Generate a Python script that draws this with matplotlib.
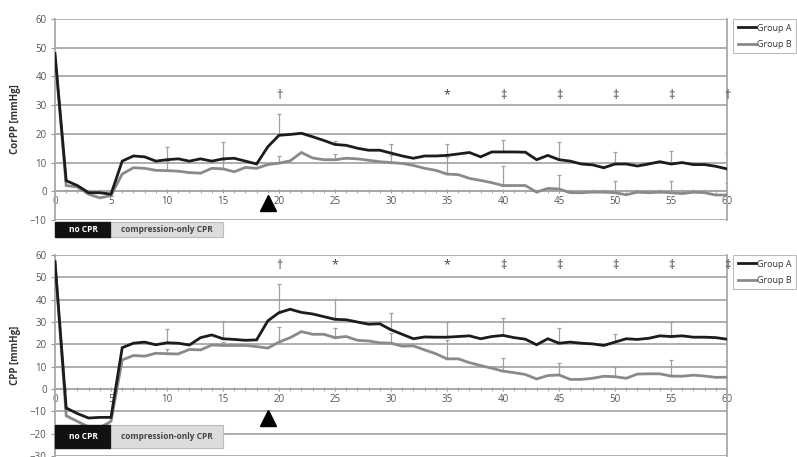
import matplotlib
matplotlib.use("Agg")
import matplotlib.pyplot as plt
import numpy as np
from matplotlib.patches import Rectangle
from matplotlib.lines import Line2D

plt.rcParams['font.family'] = ['Open Sans', 'DejaVu Sans']

minutes = list(range(0, 61))

corpp_a = [48, 3.7, 2, -0.5, -0.5, -1, 10.5, 12.3, 12, 10.5, 11, 11.3, 10.5, 11.3, 10.5, 11.3, 11.5, 10.5, 9.5, 15.5,
           19.5, 19.8, 20.2, 19, 17.7, 16.3, 16, 15, 14.3, 14.3, 13.3, 12.3, 11.5, 12.3, 12.3, 12.5, 13, 13.5, 12, 13.7,
           13.7, 13.7, 13.6, 11, 12.5, 11, 10.5, 9.5, 9.2, 8.2, 9.5, 9.5, 8.8, 9.5, 10.3, 9.5, 10, 9.3, 9.3, 8.7, 7.8]
corpp_b = [47, 2, 1.5, -1, -2.3, -1.5, 6, 8.2, 8, 7.3, 7.2, 7, 6.5, 6.3, 8, 7.8, 6.8, 8.3, 8, 9.3,
           9.8, 10.6, 13.5, 11.6, 11, 11, 11.5, 11.3, 10.8, 10.3, 10, 9.7, 9, 8, 7.3, 6, 5.8, 4.5, 3.8, 3,
           2, 2, 2, -0.3, 1, 0.8, -0.5, -0.5, -0.3, -0.3, -0.5, -1.2, -0.3, -0.5, -0.3, -0.5, -0.8, -0.3, -0.5, -1.3, -1.3]

cpp_a = [57, -8.5, -11, -13, -12.7, -12.7, 18.5, 20.5, 21, 19.8, 20.7, 20.5, 19.7, 23, 24.2, 22.5, 22.2, 21.8, 22, 30.5,
         34.2, 35.7, 34.3, 33.6, 32.4, 31.2, 31, 30, 29, 29.2, 26.5, 24.5, 22.5, 23.3, 23.2, 23.2, 23.5, 23.8, 22.5, 23.5,
         24, 23, 22.3, 19.8, 22.5, 20.5, 21, 20.5, 20.2, 19.5, 21, 22.5, 22.2, 22.7, 23.8, 23.5, 23.8, 23.2, 23.2, 23, 22.3]
cpp_b = [57, -12, -14.5, -17, -17.3, -14.5, 13, 15, 14.7, 16, 15.8, 15.7, 17.7, 17.5, 19.7, 19.5, 19.5, 19.5, 19, 18.3,
         21, 23, 25.7, 24.5, 24.5, 23, 23.5, 21.8, 21.5, 20.7, 20.5, 19.2, 19.3, 17.5, 15.8, 13.5, 13.5, 11.8, 10.5, 9.3,
         8, 7.3, 6.5, 4.5, 6, 6.3, 4.3, 4.3, 4.8, 5.7, 5.5, 4.8, 6.7, 6.8, 6.8, 5.8, 5.7, 6.2, 5.8, 5.2, 5.3]

err_minutes = [10, 15, 20, 25, 30, 35, 40, 45, 50, 55, 60]
corpp_a_upper = [15.3, 17, 27, 17.6, 16.5, 16.3, 17.7, 17.3, 13.7, 14, 13.5]
corpp_b_upper = [10.5, 11, 12.3, 13, 12.5, 12, 8.7, 5.8, 3.5, 3.5, 3]
cpp_a_upper = [26.7, 30.5, 47, 40.3, 34, 30, 32, 27.5, 24.5, 30, 30]
cpp_b_upper = [18, 21, 27.7, 27.2, 25, 22, 14, 11.5, 10, 13, 12.5]

sig_minutes_top = [20, 35, 40, 45, 50, 55, 60]
sig_marks_top = ['†', '*', '‡', '‡', '‡', '‡', '†']
sig_minutes_bot = [20, 25, 35, 40, 45, 50, 55, 60]
sig_marks_bot = ['†', '*', '*', '‡', '‡', '‡', '‡', '‡']

series_names = ['Group A', 'Group B']
phase_labels = ['no CPR', 'compression-only CPR']
phase_bounds = [0, 5, 15]
ylabels = ['CorPP [mmHg]', 'CPP [mmHg]']

W, H = 797, 457
fig = plt.figure(figsize=(W / 100, H / 100), dpi=100)

def fx(p):
    return p / W

def fy(p):
    return 1 - p / H

ax1 = fig.add_axes([fx(55), fy(220), fx(727) - fx(55), fy(19) - fy(220)])
ax2 = fig.add_axes([fx(55), fy(456), fx(727) - fx(55), fy(255) - fy(456)])

GRID = '#a8a8a8'
TXT = '#555555'
COL_A = '#1c1c1c'
COL_B = '#8a8a8a'


def style(ax, ymin, ymax, ylabel, sig_y, sig_m, sig_t, tri_y, bar_y0, bar_y1):
    ax.set_xlim(0, 60)
    ax.set_ylim(ymin, ymax)
    ax.set_yticks(np.arange(ymin, ymax + 1, 10))
    for v in np.arange(ymin, ymax + 1, 10):
        ax.axhline(v, color=GRID, lw=1.3, zorder=0.5)
    ax.spines['top'].set_visible(False)
    for s in ['left', 'right', 'bottom']:
        ax.spines[s].set_color(GRID)
        ax.spines[s].set_linewidth(1.3)
    ax.spines['bottom'].set_position(('data', 0))
    ax.set_xticks(range(0, 61, 5))
    ax.set_xticks(range(0, 61), minor=True)
    ax.tick_params(axis='x', which='both', direction='inout', length=3.5, color='#999999',
                   labelsize=7, labelcolor=TXT, pad=2)
    ax.tick_params(axis='y', direction='out', length=3, color='#999999', labelsize=7, labelcolor=TXT, pad=3)
    ax.set_ylabel(ylabel, fontsize=7, color='#333333', fontweight='bold', labelpad=6)
    for m, t in zip(sig_m, sig_t):
        ax.text(m, sig_y, t, ha='center', va='center', fontsize=9, color='#444444')
    ax.plot([19], [tri_y], marker='^', color='black', markersize=11, linestyle='none', clip_on=False, zorder=5)
    ax.add_patch(Rectangle((phase_bounds[0], bar_y0), phase_bounds[1] - phase_bounds[0], bar_y1 - bar_y0,
                           facecolor='#111111', edgecolor='#111111', clip_on=False, zorder=6))
    ax.add_patch(Rectangle((phase_bounds[1], bar_y0), phase_bounds[2] - phase_bounds[1], bar_y1 - bar_y0,
                           facecolor='#dcdcdc', edgecolor='#bbbbbb', lw=0.8, clip_on=False, zorder=6))
    ym = (bar_y0 + bar_y1) / 2
    ax.text((phase_bounds[0] + phase_bounds[1]) / 2, ym, phase_labels[0], ha='center', va='center',
            fontsize=6, color='white', fontweight='bold', zorder=7, clip_on=False)
    ax.text((phase_bounds[1] + phase_bounds[2]) / 2, ym, phase_labels[1], ha='center', va='center',
            fontsize=6, color='#444444', fontweight='bold', zorder=7, clip_on=False)


def draw(ax, a, b, a_up, b_up):
    a_at = [a[m] for m in err_minutes]
    b_at = [b[m] for m in err_minutes]
    ea = [max(u - v, 0) for u, v in zip(a_up, a_at)]
    eb = [max(u - v, 0) for u, v in zip(b_up, b_at)]
    z = [0] * len(err_minutes)
    ax.errorbar(err_minutes, b_at, yerr=[z, eb], fmt='none', ecolor='#a0a0a0', elinewidth=0.9,
                capsize=1.5, capthick=0.9, zorder=2)
    ax.errorbar(err_minutes, a_at, yerr=[z, ea], fmt='none', ecolor='#a0a0a0', elinewidth=0.9,
                capsize=1.5, capthick=0.9, zorder=2)
    ax.plot(minutes, b, color=COL_B, lw=2.0, zorder=3, solid_joinstyle='miter')
    ax.plot(minutes, a, color=COL_A, lw=2.0, zorder=4, solid_joinstyle='miter')


draw(ax1, corpp_a, corpp_b, corpp_a_upper, corpp_b_upper)
draw(ax2, cpp_a, cpp_b, cpp_a_upper, cpp_b_upper)
style(ax1, -10, 60, ylabels[0], 33.5, sig_minutes_top, sig_marks_top, -4.0, -10.6, -16.0)
style(ax2, -30, 60, ylabels[1], 55.5, sig_minutes_bot, sig_marks_bot, -13.0, -16.1, -26.4)

handles = [Line2D([], [], color=COL_A, lw=2.0), Line2D([], [], color=COL_B, lw=2.0)]
for top_px in (19, 255):
    leg = fig.legend(handles, series_names, loc='upper left', bbox_to_anchor=(fx(733), fy(top_px)),
                     fontsize=6.5, frameon=True, fancybox=False, handlelength=2.0, handletextpad=0.15,
                     borderpad=0.5, borderaxespad=0.0, labelspacing=0.8, labelcolor='#333333')
    leg.get_frame().set_edgecolor('#aaaaaa')
    leg.get_frame().set_linewidth(0.8)

fig.savefig('out.png', dpi=100)
